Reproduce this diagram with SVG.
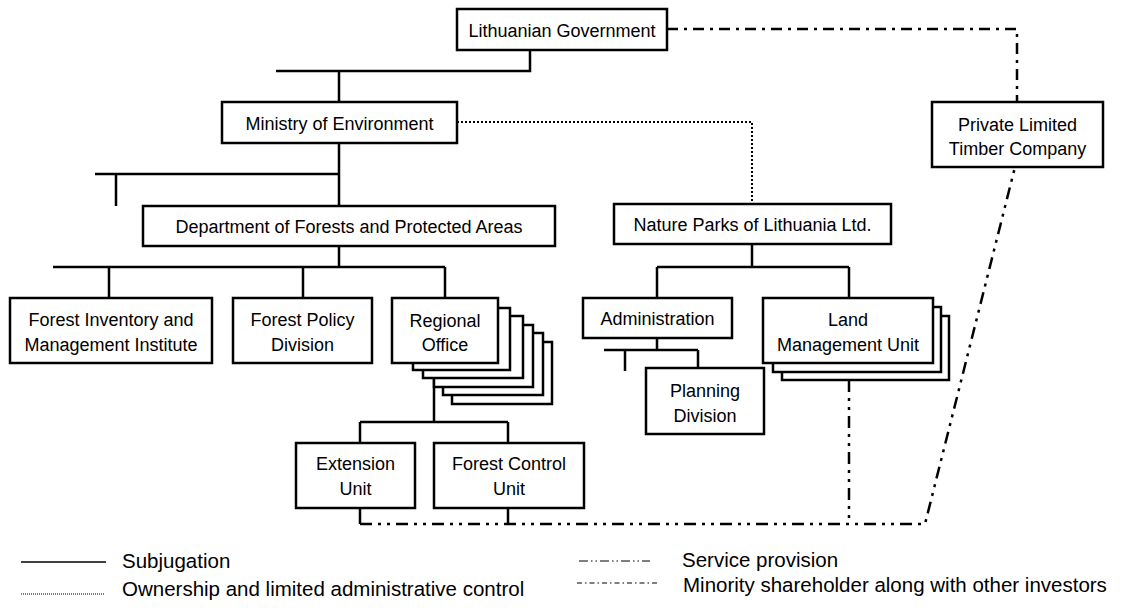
<svg xmlns="http://www.w3.org/2000/svg" width="1127" height="612" viewBox="0 0 1127 612">
<style>
.box{fill:#fff;stroke:#000;stroke-width:2.5}
.t{font-family:"Liberation Sans",Arial,sans-serif;font-size:18px;fill:#000;text-anchor:middle}
.lg{font-family:"Liberation Sans",Arial,sans-serif;font-size:20.5px;fill:#000}
.solid{fill:none;stroke:#000;stroke-width:2.5}
.dot{fill:none;stroke:#000;stroke-width:2;stroke-dasharray:2 2}
.minor{fill:none;stroke:#000;stroke-width:2.5;stroke-dasharray:11 6 3 6}
.serv{fill:none;stroke:#000;stroke-width:2.5;stroke-dasharray:12 6 3 6 3 6}
</style>
<rect width="1127" height="612" fill="#fff"/>
<g id="connectors">
<path class="solid" d="M530 50V71H276M339 71V102"/>
<path class="solid" d="M339 143V206M95 174H339M116 174V206"/>
<path class="solid" d="M339 246V267M53 267H445M109 267V298M303 267V298M445 267V298"/>
<path class="solid" d="M434 370V422M360 422H508M360 422V443M508 422V443"/>
<path class="solid" d="M752 244V267M657 267H849M657 267V298M849 267V298"/>
<path class="solid" d="M657 338V350M604 350H698M625 350V371M698 350V368"/>
<path class="solid" d="M360 508V524M508 508V524"/>
<path class="dot" d="M457 122H752V204"/>
<path class="minor" d="M667 29H1017V102"/>
<path class="serv" d="M360 524H925L1015 167"/>
<path class="serv" d="M849 380V524"/>
</g>
<g id="gov"><rect class="box" x="457" y="9" width="210" height="41"/><text class="t" x="562" y="37">Lithuanian Government</text></g>
<g id="ministry"><rect class="box" x="222" y="102" width="235" height="41"/><text class="t" x="339.5" y="130">Ministry of Environment</text></g>
<g id="dept"><rect class="box" x="143" y="206" width="412" height="40"/><text class="t" x="349" y="233">Department of Forests and Protected Areas</text></g>
<g id="nature-parks"><rect class="box" x="614" y="204" width="277" height="40"/><text class="t" x="752.5" y="231">Nature Parks of Lithuania Ltd.</text></g>
<g id="timber-company"><rect class="box" x="932" y="102" width="171" height="65"/><text class="t" x="1017.5" y="131">Private Limited</text><text class="t" x="1017.5" y="155">Timber Company</text></g>
<g id="forest-inventory"><rect class="box" x="10" y="298" width="202" height="65"/><text class="t" x="111" y="326">Forest Inventory and</text><text class="t" x="111" y="351">Management Institute</text></g>
<g id="forest-policy"><rect class="box" x="233" y="298" width="139" height="65"/><text class="t" x="302.5" y="326">Forest Policy</text><text class="t" x="302.5" y="351">Division</text></g>
<g id="regional-office">
<rect class="box" x="452" y="342" width="100" height="62"/>
<rect class="box" x="443" y="333" width="100" height="62"/>
<rect class="box" x="434" y="325" width="99" height="62"/>
<rect class="box" x="423" y="316" width="100" height="62"/>
<rect class="box" x="413" y="308" width="97" height="62"/>
<rect class="box" x="392" y="298" width="106" height="65"/>
<text class="t" x="445" y="327">Regional</text><text class="t" x="445" y="351">Office</text>
</g>
<g id="administration"><rect class="box" x="583" y="298" width="149" height="40"/><text class="t" x="657.5" y="325">Administration</text></g>
<g id="land-management">
<rect class="box" x="782" y="316" width="167" height="64"/>
<rect class="box" x="773" y="307" width="168" height="65"/>
<rect class="box" x="763" y="298" width="170" height="65"/>
<text class="t" x="848" y="326">Land</text><text class="t" x="848" y="351">Management Unit</text>
</g>
<g id="planning"><rect class="box" x="646" y="368" width="118" height="66"/><text class="t" x="705" y="397">Planning</text><text class="t" x="705" y="422">Division</text></g>
<g id="extension"><rect class="box" x="296" y="443" width="119" height="65"/><text class="t" x="355.5" y="470">Extension</text><text class="t" x="355.5" y="495">Unit</text></g>
<g id="forest-control"><rect class="box" x="434" y="443" width="150" height="65"/><text class="t" x="509" y="470">Forest Control</text><text class="t" x="509" y="495">Unit</text></g>
<g id="legend">
<line x1="21" y1="562" x2="106" y2="562" stroke="#000" stroke-width="1.5"/>
<text class="lg" x="122" y="568">Subjugation</text>
<line x1="21" y1="594" x2="104" y2="594" stroke="#000" stroke-width="1" stroke-dasharray="1 1"/>
<text class="lg" x="122" y="596">Ownership and limited administrative control</text>
<line x1="579" y1="561" x2="650" y2="561" stroke="#000" stroke-width="1.2" stroke-dasharray="9 3 1.5 3 1.5 3"/>
<text class="lg" x="682" y="567">Service provision</text>
<line x1="577" y1="583" x2="660" y2="583" stroke="#000" stroke-width="1.2" stroke-dasharray="5 3 1.5 3"/>
<text class="lg" x="683" y="592">Minority shareholder along with other investors</text>
</g>
</svg>
